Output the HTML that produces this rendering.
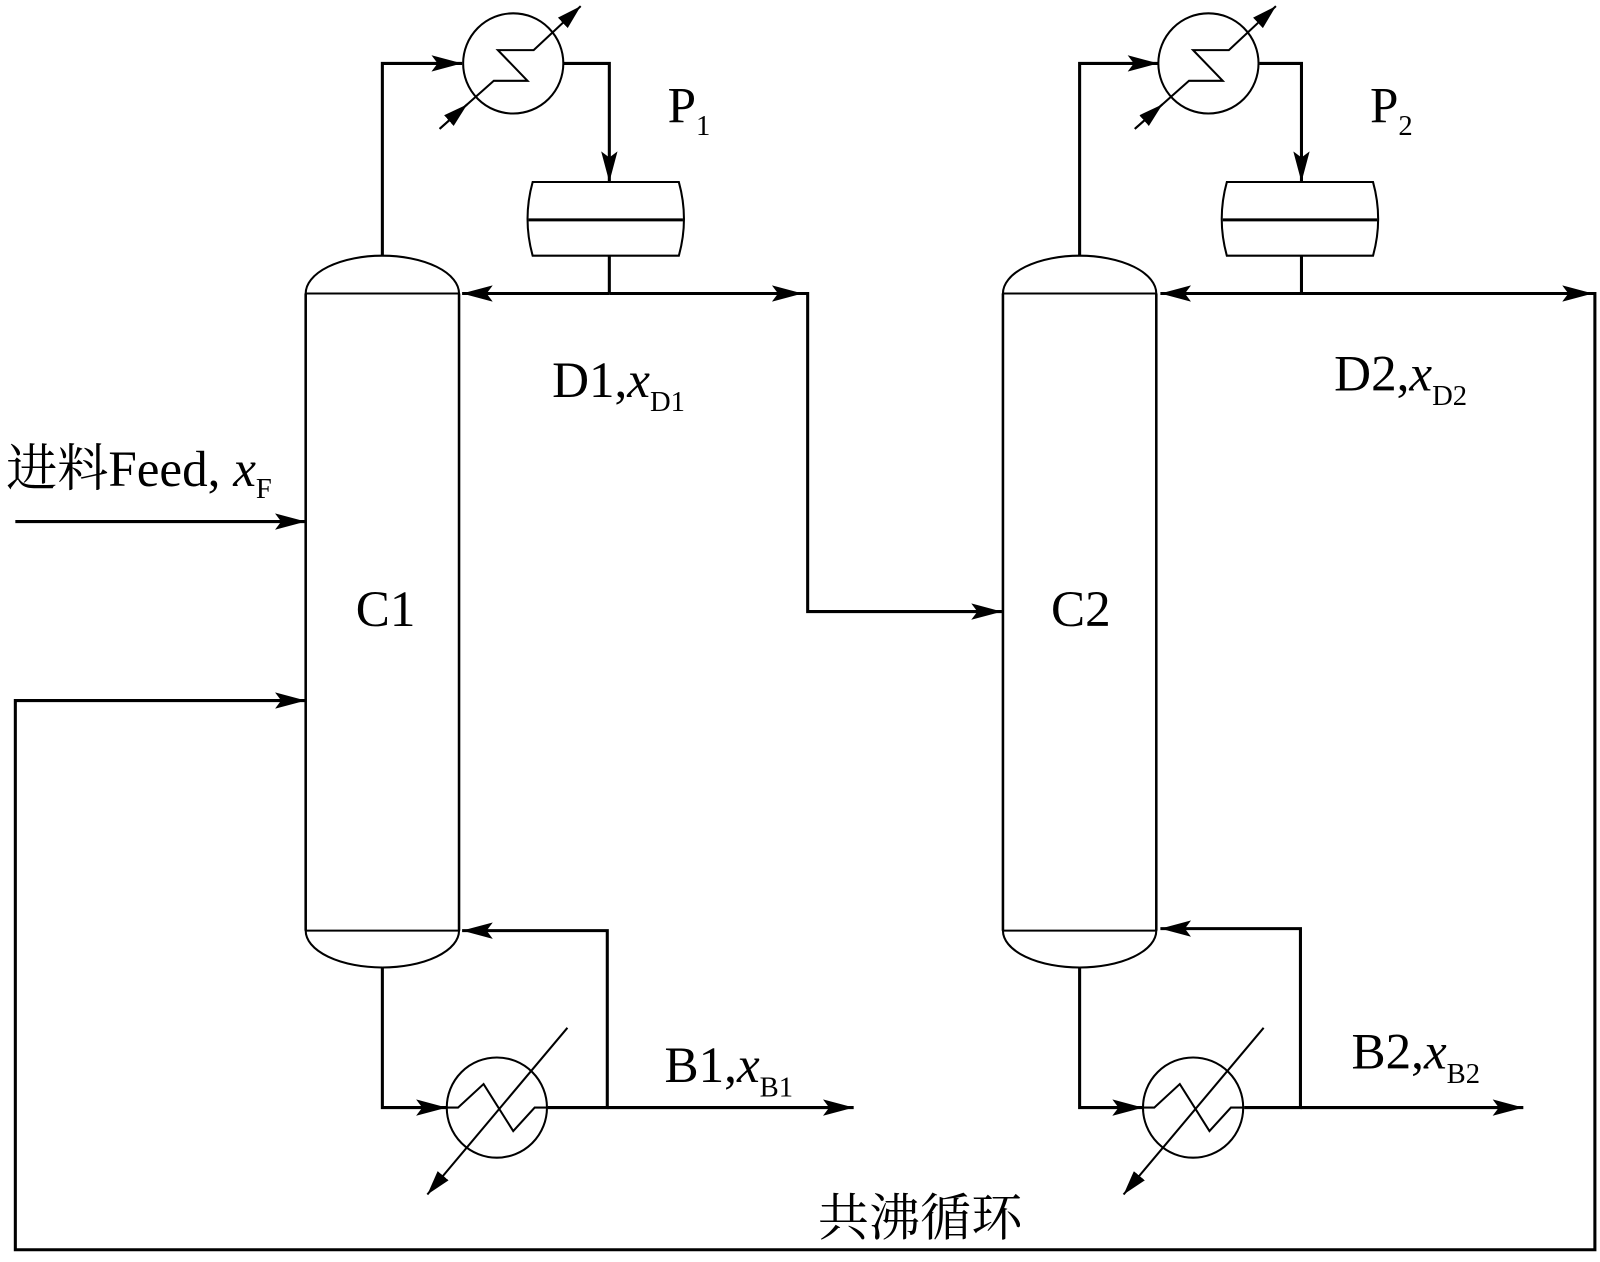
<!DOCTYPE html>
<html><head><meta charset="utf-8"><style>
html,body{margin:0;padding:0;background:#fff;}
svg{display:block;}
text{font-family:"Liberation Serif","Noto Serif CJK SC",serif;fill:#000;}
</style></head><body>
<svg width="1600" height="1262" viewBox="0 0 1565 1234" preserveAspectRatio="none" xmlns="http://www.w3.org/2000/svg">
<defs>
<marker id="a" viewBox="0 0 10 10" refX="10" refY="5" markerWidth="30" markerHeight="16" markerUnits="userSpaceOnUse" orient="auto" preserveAspectRatio="none"><path d="M0,0 L10,5 L0,10 L2,5 z" fill="#000"/></marker>
<marker id="s" viewBox="0 0 10 10" refX="10" refY="5" markerWidth="24" markerHeight="14" markerUnits="userSpaceOnUse" orient="auto" preserveAspectRatio="none"><path d="M0,0 L10,5 L0,10 z" fill="#000"/></marker>
<g id="col" fill="none" stroke="#000" stroke-width="2.5">
<path d="M0,37 L0,660 M150,37 L150,660"/>
<path d="M0,37 A75,37 0 0 1 150,37 Z" stroke-width="2"/>
<path d="M0,660 A75,36 0 0 0 150,660 Z" stroke-width="2"/>
</g>
<g id="cond" fill="none" stroke="#000" stroke-width="2">
<circle cx="0" cy="0" r="49"/>
<polyline points="-72,64 -19,17 14,17 -15,-13 20,-13 66,-56" marker-end="url(#s)"/>
<line x1="-72" y1="64" x2="-45" y2="40" marker-end="url(#s)"/>
</g>
<g id="drum" fill="#fff" stroke="#000" stroke-width="2">
<path d="M0,0 L143,0 Q153,36 143,72 L0,72 Q-10,36 0,0 Z"/>
<line x1="-4" y1="37" x2="147" y2="37" stroke-width="3"/>
</g>
<g id="reb" fill="none" stroke="#000" stroke-width="2">
<circle cx="0" cy="0" r="49"/>
<polyline points="-51,0 -38,0 -13,-23 16,23 37,0 50,0"/>
<line x1="69" y1="-78" x2="-68" y2="85" marker-end="url(#s)"/>
</g>
</defs>
<g fill="none" stroke="#000" stroke-width="3">
<use href="#col" x="299" y="250"/>
<polyline points="374,250 374,62 452,62" marker-end="url(#a)"/>
<polyline points="551,62 596,62 596,178" marker-end="url(#a)"/>
<line x1="596" y1="250" x2="596" y2="287"/>
<line x1="596" y1="287" x2="452" y2="287" marker-end="url(#a)"/>
<line x1="596" y1="287" x2="785" y2="287" marker-end="url(#a)"/>
<polyline points="780,287 790,287 790,598 980,598" marker-end="url(#a)"/>
<polyline points="374,945 374,1083 437,1083" marker-end="url(#a)"/>
<polyline points="536,1083 594,1083 594,910 452,910" marker-end="url(#a)"/>
<line x1="594" y1="1083" x2="835" y2="1083" marker-end="url(#a)"/>
<line x1="15" y1="510" x2="299" y2="510" marker-end="url(#a)"/>
<use href="#col" x="981" y="250"/>
<polyline points="1056,250 1056,62 1133,62" marker-end="url(#a)"/>
<polyline points="1232,62 1273,62 1273,178" marker-end="url(#a)"/>
<line x1="1273" y1="250" x2="1273" y2="287"/>
<line x1="1273" y1="287" x2="1135" y2="287" marker-end="url(#a)"/>
<line x1="1273" y1="287" x2="1558" y2="287" marker-end="url(#a)"/>
<polyline points="1056,945 1056,1083 1118,1083" marker-end="url(#a)"/>
<polyline points="1217,1083 1272,1083 1272,908 1135,908" marker-end="url(#a)"/>
<line x1="1272" y1="1083" x2="1490" y2="1083" marker-end="url(#a)"/>
<polyline points="1550,287 1560,287 1560,1222 15,1222 15,685 299,685" marker-end="url(#a)"/>
</g>
<use href="#cond" x="502" y="62"/>
<use href="#cond" x="1182" y="62"/>
<use href="#drum" x="521" y="178"/>
<use href="#drum" x="1200" y="178"/>
<use href="#reb" x="486" y="1083"/>
<use href="#reb" x="1167" y="1083"/>
<g font-size="50">
<text x="653" y="120">P<tspan font-size="28" dy="12">1</tspan></text>
<text x="1340" y="120">P<tspan font-size="28" dy="12">2</tspan></text>
<text x="540" y="388">D1,<tspan font-style="italic">x</tspan><tspan font-size="28" dy="14">D1</tspan></text>
<text x="1305" y="382">D2,<tspan font-style="italic">x</tspan><tspan font-size="28" dy="14">D2</tspan></text>
<text x="650" y="1058">B1,<tspan font-style="italic">x</tspan><tspan font-size="28" dy="14">B1</tspan></text>
<text x="1322" y="1045">B2,<tspan font-style="italic">x</tspan><tspan font-size="28" dy="14">B2</tspan></text>
<text x="348" y="612">C1</text>
<text x="1028" y="612">C2</text>
<text x="6" y="475">进料Feed, <tspan font-style="italic">x</tspan><tspan font-size="28" dy="12">F</tspan></text>
<text x="800" y="1208">共沸循环</text>
</g>
</svg>
</body></html>
